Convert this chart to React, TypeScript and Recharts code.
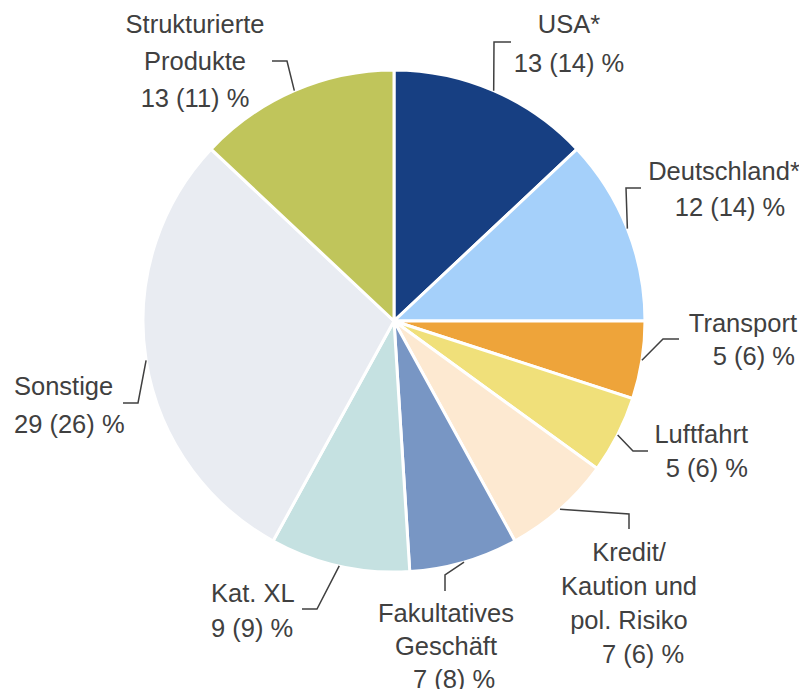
import React from 'react';
import { PieChart, Pie, Cell } from 'recharts';

const segments = [
  'USA*',
  'Deutschland*',
  'Transport',
  'Luftfahrt',
  'Kredit/ Kaution und pol. Risiko',
  'Fakultatives Geschäft',
  'Kat. XL',
  'Sonstige',
  'Strukturierte Produkte',
];
const shareCurrent = [13, 12, 5, 5, 7, 7, 9, 29, 13];
const sharePrevious = [14, 14, 6, 6, 6, 8, 9, 26, 11];
const labelLines = [
  ['USA*'],
  ['Deutschland*'],
  ['Transport'],
  ['Luftfahrt'],
  ['Kredit/', 'Kaution und', 'pol. Risiko'],
  ['Fakultatives', 'Geschäft'],
  ['Kat. XL'],
  ['Sonstige'],
  ['Strukturierte', 'Produkte'],
];
const colors = [
  '#173f82',
  '#a5d0fa',
  '#eea43a',
  '#f0e07a',
  '#fde9d1',
  '#7896c4',
  '#c5e1e1',
  '#e9ecf2',
  '#c0c55b',
];

// label placement relative to the pie centre
type LabelLayout = {
  elbow: [number, number];
  end: [number, number];
  x: number;
  y: number;
  anchor: 'start' | 'middle' | 'end';
  lh: number;
  dx?: number[];
};
const layouts: LabelLayout[] = [
  { elbow: [100, -279], end: [117, -279], x: 175, y: -288, anchor: 'middle', lh: 39 },
  { elbow: [232, -133], end: [247, -133], x: 331, y: -141, anchor: 'middle', lh: 36, dx: [-1, 5] },
  { elbow: [269, 18], end: [285, 18], x: 403, y: 11, anchor: 'end', lh: 33, dx: [0, -2] },
  { elbow: [239, 130], end: [254, 130], x: 354, y: 122, anchor: 'end', lh: 34 },
  { elbow: [235, 193], end: [235, 208], x: 235, y: 240, anchor: 'middle', lh: 34, dx: [0, 0, 0, 14] },
  { elbow: [51, 254], end: [51, 270], x: 52, y: 301, anchor: 'middle', lh: 33, dx: [0, 0, 8] },
  { elbow: [-77, 288], end: [-92, 288], x: -183, y: 281, anchor: 'start', lh: 35 },
  { elbow: [-256, 82], end: [-271, 82], x: -380, y: 74, anchor: 'start', lh: 38 },
  { elbow: [-107, -260], end: [-122, -260], x: -199, y: -288, anchor: 'middle', lh: 37 },
];

const data = segments.map((name, i) => ({
  name,
  value: shareCurrent[i],
  prev: sharePrevious[i],
}));

const RAD = Math.PI / 180;
const TEXT = '#404040';

const renderLabel = (props: any) => {
  const { cx, cy, midAngle, outerRadius, index } = props;
  const l = layouts[index];
  const sx = cx + outerRadius * Math.cos(-midAngle * RAD);
  const sy = cy + outerRadius * Math.sin(-midAngle * RAD);
  const lines = [...labelLines[index], `${shareCurrent[index]} (${sharePrevious[index]}) %`];
  return (
    <g key={`label-${index}`}>
      <polyline
        points={`${sx},${sy} ${cx + l.elbow[0]},${cy + l.elbow[1]} ${cx + l.end[0]},${cy + l.end[1]}`}
        fill="none"
        stroke={TEXT}
        strokeWidth={1.5}
      />
      <text
        textAnchor={l.anchor}
        fill={TEXT}
        fontSize={25.5}
        fontFamily="'Liberation Sans', Arial, sans-serif"
      >
        {lines.map((t, k) => (
          <tspan key={k} x={cx + l.x + (l.dx?.[k] ?? 0)} y={cy + l.y + k * l.lh}>
            {t}
          </tspan>
        ))}
      </text>
    </g>
  );
};

export default function App() {
  return (
    <div style={{ width: 807, height: 697, background: '#fff', margin: -8 }}>
      <PieChart width={807} height={697} margin={{ top: 0, right: 0, bottom: 0, left: 0 }}>
        <Pie
          data={data}
          dataKey="value"
          cx={394}
          cy={321}
          outerRadius={251}
          startAngle={90}
          endAngle={-270}
          stroke="#ffffff"
          strokeWidth={3}
          labelLine={false}
          label={renderLabel}
          isAnimationActive={false}
        >
          {data.map((d, i) => (
            <Cell key={d.name} fill={colors[i]} />
          ))}
        </Pie>
      </PieChart>
    </div>
  );
}
